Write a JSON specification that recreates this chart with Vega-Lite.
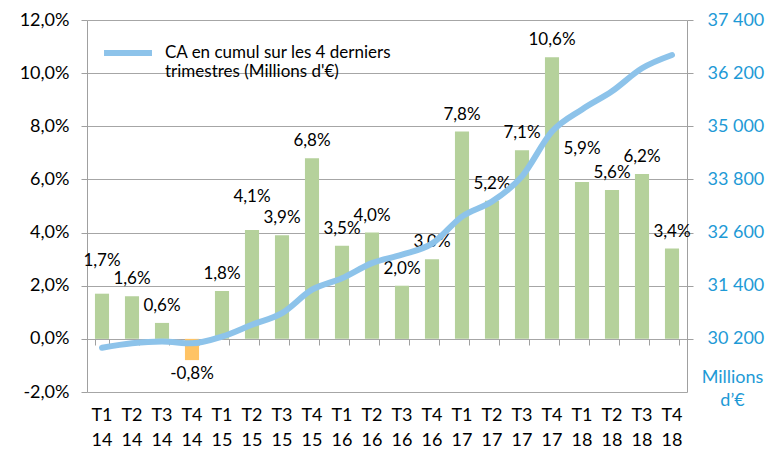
{
  "$schema": "https://vega.github.io/schema/vega-lite/v6.json",
  "width": 600,
  "height": 372,
  "autosize": "none",
  "padding": {"left": 87, "top": 20, "right": 92, "bottom": 69},
  "background": "white",
  "config": {
    "view": {"stroke": null},
    "font": "Lato",
    "axis": {"labelFont": "Lato", "titleFont": "Lato", "labelFontSize": 18, "labelColor": "#000000", "domainColor": "#A0A0A0", "tickColor": "#A0A0A0", "gridColor": "#A6A6A6"},
    "legend": {"labelFont": "Lato"}
  },
  "data": {
    "values": [
      {"q": "T1 14", "pct": 0.017, "ca": 30000},
      {"q": "T2 14", "pct": 0.016, "ca": 30100},
      {"q": "T3 14", "pct": 0.006, "ca": 30140},
      {"q": "T4 14", "pct": -0.008, "ca": 30100},
      {"q": "T1 15", "pct": 0.018, "ca": 30250},
      {"q": "T2 15", "pct": 0.041, "ca": 30520},
      {"q": "T3 15", "pct": 0.039, "ca": 30780},
      {"q": "T4 15", "pct": 0.068, "ca": 31310},
      {"q": "T1 16", "pct": 0.035, "ca": 31570},
      {"q": "T2 16", "pct": 0.040, "ca": 31910},
      {"q": "T3 16", "pct": 0.020, "ca": 32100},
      {"q": "T4 16", "pct": 0.030, "ca": 32350},
      {"q": "T1 17", "pct": 0.078, "ca": 32960},
      {"q": "T2 17", "pct": 0.052, "ca": 33300},
      {"q": "T3 17", "pct": 0.071, "ca": 33870},
      {"q": "T4 17", "pct": 0.106, "ca": 34880},
      {"q": "T1 18", "pct": 0.059, "ca": 35380},
      {"q": "T2 18", "pct": 0.056, "ca": 35790},
      {"q": "T3 18", "pct": 0.062, "ca": 36310},
      {"q": "T4 18", "pct": 0.034, "ca": 36610}
    ]
  },
  "transform": [{"calculate": "replace(replace(format(datum.pct, '.1%'), '.', ','), '−', '-')", "as": "lbl"}],
  "layer": [
    {
      "encoding": {
        "x": {
          "field": "q", "type": "nominal", "sort": null,
          "scale": {"paddingInner": 0.53, "paddingOuter": 0.265},
          "axis": {"title": null, "domain": false, "ticks": false, "labelAngle": 0, "labelPadding": 14, "labelLineHeight": 25, "labelBaseline": "top", "labelExpr": "split(datum.value, ' ')"}
        },
        "y": {
          "field": "pct", "type": "quantitative",
          "scale": {"domain": [-0.02, 0.12], "nice": false, "zero": false},
          "axis": {"title": null, "values": [-0.02, 0, 0.02, 0.04, 0.06, 0.08, 0.1, 0.12], "labelExpr": "replace(replace(format(datum.value, '.1%'), '.', ','), '−', '-')", "grid": true, "tickSize": 6, "labelPadding": 12}
        }
      },
      "layer": [
        {
          "mark": {"type": "bar"},
          "encoding": {
            "color": {"condition": {"test": "datum.pct < 0", "value": "#FFC364"}, "value": "#B5D19B"}
          }
        },
        {
          "transform": [{"filter": "datum.pct >= 0 && indexof(['T1 14', 'T2 15', 'T1 18'], datum.q) < 0"}],
          "mark": {"type": "text", "baseline": "bottom", "dy": -8, "fontSize": 17, "font": "Lato", "color": "#000000"},
          "encoding": {"text": {"field": "lbl"}}
        },
        {
          "transform": [{"filter": "indexof(['T1 14', 'T2 15', 'T1 18'], datum.q) >= 0"}],
          "mark": {"type": "text", "baseline": "bottom", "dy": -24, "fontSize": 17, "font": "Lato", "color": "#000000"},
          "encoding": {"text": {"field": "lbl"}}
        },
        {
          "transform": [{"filter": "datum.pct < 0"}],
          "mark": {"type": "text", "baseline": "top", "dy": 6, "fontSize": 17, "font": "Lato", "color": "#000000"},
          "encoding": {"text": {"field": "lbl"}}
        }
      ]
    },
    {
      "mark": {"type": "line", "strokeWidth": 6, "interpolate": "monotone", "strokeCap": "round"},
      "encoding": {
        "x": {
          "field": "q", "type": "nominal", "sort": null,
          "axis": {"title": null, "labels": false, "domain": false, "ticks": true, "tickBand": "extent", "tickSize": 6, "offset": -53, "orient": "bottom", "grid": false}
        },
        "y": {
          "field": "ca", "type": "quantitative",
          "scale": {"domain": [29000, 37400], "nice": false, "zero": false},
          "axis": {"orient": "right", "values": [30200, 31400, 32600, 33800, 35000, 36200, 37400], "labelExpr": "replace(format(datum.value, ','), ',', ' ')", "labelColor": "#1E9AD6", "grid": false, "tickSize": 6, "labelPadding": 14, "title": ["Millions", "d’€"], "titleColor": "#1E9AD6", "titleFontSize": 18, "titleFontWeight": "normal", "titleAngle": 0, "titleX": 45, "titleY": 348, "titleAlign": "center", "titleBaseline": "top", "titleLineHeight": 23}
        },
        "color": {
          "datum": "CA en cumul sur les 4 derniers|trimestres (Millions d'€)",
          "type": "nominal",
          "scale": {"range": ["#8DC3EA"]},
          "legend": {"title": null, "orient": "none", "legendX": 14, "legendY": 6, "symbolType": "stroke", "symbolStrokeWidth": 6, "symbolSize": 2300, "labelFontSize": 17, "labelLimit": 400, "labelExpr": "split(datum.label, '|')", "labelOffset": 10, "labelColor": "#000000"}
        }
      }
    }
  ],
  "resolve": {"scale": {"y": "independent"}, "axis": {"x": "independent"}}
}
